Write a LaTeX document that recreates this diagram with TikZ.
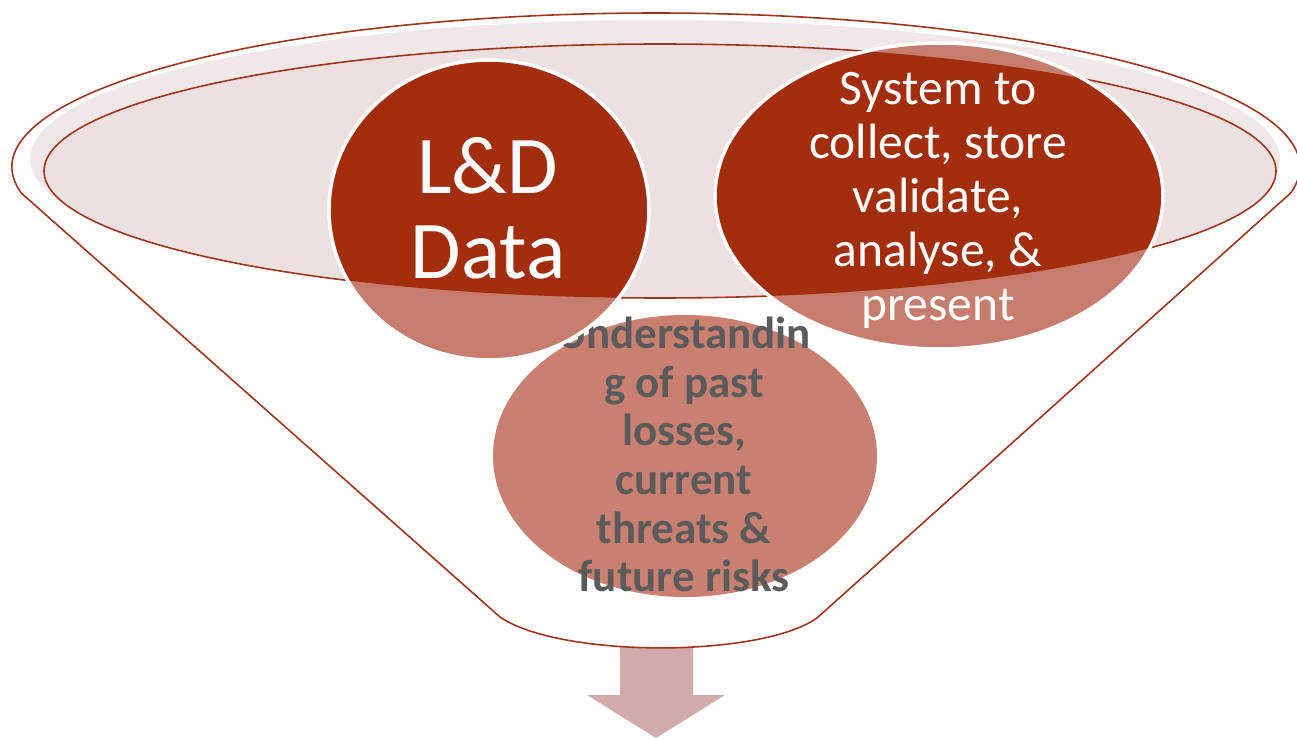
\documentclass[tikz,border=0pt]{standalone}
\usepackage{fontspec}
\setmainfont{Carlito}

\definecolor{rimred}{HTML}{A0341A}
\definecolor{bandgray}{HTML}{F0E8E8}
\definecolor{mouthpink}{HTML}{EDE0E0}
\definecolor{darkred}{HTML}{A22E0E}
\definecolor{palered}{HTML}{C67D6E}
\definecolor{lowred}{HTML}{C98070}
\definecolor{textgray}{HTML}{5B5B5B}
\definecolor{arrowpink}{HTML}{D2AAA9}

\tikzset{
	rim/.style={draw=rimred, line width=0.9pt},
	bigtext/.style={text=white, align=center, inner sep=0pt, font={\fontsize{46.7}{48.4}\selectfont}},
	smalltext/.style={text=white, align=center, inner sep=0pt, font={\fontsize{28.2}{30.7}\selectfont}},
	graytext/.style={text=textgray, align=center, inner sep=0pt, font={\bfseries\fontsize{25.6}{27.7}\selectfont}}
}

\begin{document}
\begin{tikzpicture}[x=0.02cm, y=0.02cm]
	\useasboundingbox (0,0) rectangle (1297,738);

	% arrow leaving the funnel
	\fill[arrowpink] (620,93) -- (693,93) -- (693,43) -- (725,43) -- (656,0) -- (587,43) -- (620,43) -- cycle;

	% funnel body
	\coordinate (tl) at (21.2,545);
	\coordinate (br) at (817,120);
	\coordinate (bl) at (500,121);
	\draw[rim, fill=white] (tl) arc[start angle=189.72, end angle=-9.72, x radius=644, y radius=154]
		-- (br) .. controls (760,80) and (560,80) .. (bl) -- cycle;
	\fill[bandgray] (655,579) ellipse[x radius=625, y radius=139];
	\draw[rim, fill=mouthpink] (660,567) ellipse[x radius=616, y radius=127];

	% lower circle and its text
	\fill[lowred] (685,282) ellipse[x radius=192, y radius=141];
	\node[graytext] (und) at (684,283.5) {Understandin\\g of past\\losses,\\current\\threats \&\\future risks};

	% upper circles, pale below the mouth, dark inside it
	\fill[palered] (489,528) ellipse[x radius=160, y radius=150];
	\fill[palered] (939,542) ellipse[x radius=224, y radius=153];
	\begin{scope}
		\clip (660,567) ellipse[x radius=616, y radius=127];
		\fill[darkred] (489,528) ellipse[x radius=160, y radius=150];
		\fill[darkred] (939,542) ellipse[x radius=224, y radius=153];
	\end{scope}
	\draw[white, line width=2pt] (489,528) ellipse[x radius=160, y radius=150];
	\draw[white, line width=2pt] (939,542) ellipse[x radius=224, y radius=153];

	\node[bigtext] (ld) at (488,529.5) {L\&D\\Data};
	\node[smalltext] (sys) at (938,537.5) {System to\\collect, store\\validate,\\analyse, \&\\present};
\end{tikzpicture}
\end{document}
